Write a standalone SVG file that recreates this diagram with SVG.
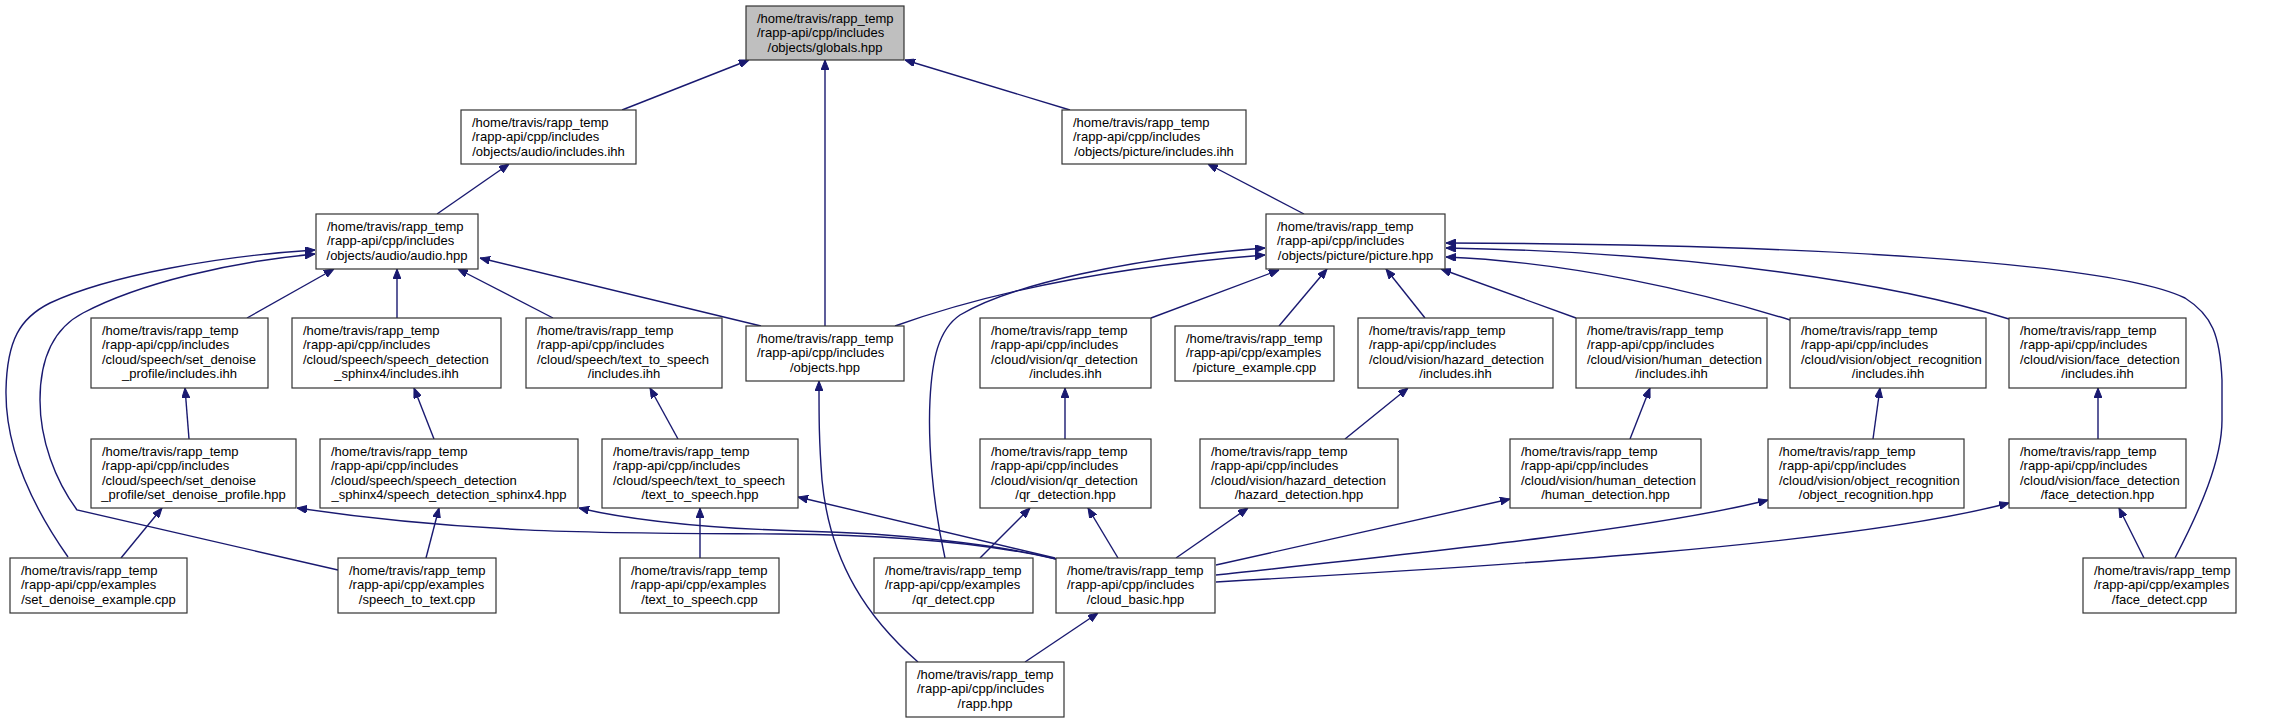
<svg xmlns="http://www.w3.org/2000/svg" width="2272" height="723" viewBox="0 0 2272 723">
<style>
.n rect{fill:#fff;stroke:#333;stroke-width:1.2}
.n.g rect{fill:#bfbfbf}
.n text{font-family:"Liberation Sans",Arial,sans-serif;font-size:13px;fill:#000}
.c{text-anchor:middle}
#edges path{fill:none;stroke:#191970;stroke-width:1.4;marker-end:url(#ah)}
</style>
<defs>
<marker id="ah" viewBox="0 0 10 8" refX="10" refY="4" markerWidth="10" markerHeight="8" markerUnits="userSpaceOnUse" orient="auto">
<path d="M0,0 L10,4 L0,8 z" fill="#191970" stroke="#191970" stroke-width="1"/>
</marker>
</defs>
<rect width="2272" height="723" fill="#fff"/>
<g id="edges">
<path d="M622,110 L749,60"/>
<path d="M825,326 L825,60"/>
<path d="M1070,110 L905,60"/>
<path d="M437,214 L509,164"/>
<path d="M1304,214 L1208,164"/>
<path d="M247,318 L334,269"/>
<path d="M397,318 L397,269"/>
<path d="M553,318 L458,269"/>
<path d="M761,326 L480,258"/>
<path d="M68,557 C35,510 5,450 6,390 C7,340 20,318 50,303 C110,275 220,256 315,250"/>
<path d="M338,570 L77,510 C55,480 40,440 40,400 C40,350 60,325 83,313 C140,283 230,262 315,254"/>
<path d="M189,439 L185,388"/>
<path d="M434,439 L414,388"/>
<path d="M678,439 L650,388"/>
<path d="M895,326 C990,292 1110,267 1265,255"/>
<path d="M945,558 C932,500 928,440 930,400 C932,360 938,330 960,315 C1010,285 1130,258 1265,248"/>
<path d="M1151,318 L1279,270"/>
<path d="M1279,326 L1327,269"/>
<path d="M1425,318 L1386,269"/>
<path d="M1576,318 L1441,269"/>
<path d="M1790,320 C1700,292 1570,262 1446,257"/>
<path d="M2009,319 C1900,285 1700,252 1446,248"/>
<path d="M2175,558 C2200,510 2222,460 2222,420 L2222,380 C2220,335 2212,315 2185,298 C2110,262 1800,244 1446,243"/>
<path d="M1065,439 L1065,388"/>
<path d="M1345,439 L1408,388"/>
<path d="M1630,439 L1650,388"/>
<path d="M1873,439 L1880,388"/>
<path d="M2098,439 L2098,388"/>
<path d="M121,558 L162,508"/>
<path d="M426,558 L439,508"/>
<path d="M700,558 L700,508"/>
<path d="M1056,559 C990,544 900,535 780,534 C620,533 480,535 297,508"/>
<path d="M1056,559 C1000,545 900,533 800,531 C700,528 630,520 579,508"/>
<path d="M1055,558 L798,497"/>
<path d="M1118,558 L1088,508"/>
<path d="M1176,558 L1248,508"/>
<path d="M1216,565 L1510,499"/>
<path d="M1216,575 C1400,555 1650,530 1768,500"/>
<path d="M1216,582 C1500,566 1850,545 2009,503"/>
<path d="M980,558 L1030,508"/>
<path d="M1025,662 L1098,613"/>
<path d="M918,662 C870,620 830,565 822,480 C819,440 819,420 819,381"/>
<path d="M2144,558 L2119,508"/>
</g>
<g id="n1" class="n g"><rect x="746" y="6" width="158" height="54"/><text><tspan x="757" y="22.5">/home/travis/rapp_temp</tspan><tspan x="757" y="37">/rapp-api/cpp/includes</tspan><tspan class="c" x="825" y="51.5">/objects/globals.hpp</tspan></text></g>
<g id="n2" class="n"><rect x="461" y="110" width="175" height="54"/><text><tspan x="472" y="126.5">/home/travis/rapp_temp</tspan><tspan x="472" y="141">/rapp-api/cpp/includes</tspan><tspan class="c" x="548.5" y="155.5">/objects/audio/includes.ihh</tspan></text></g>
<g id="n3" class="n"><rect x="1062" y="110" width="184" height="54"/><text><tspan x="1073" y="126.5">/home/travis/rapp_temp</tspan><tspan x="1073" y="141">/rapp-api/cpp/includes</tspan><tspan class="c" x="1154" y="155.5">/objects/picture/includes.ihh</tspan></text></g>
<g id="n4" class="n"><rect x="316" y="214" width="162" height="55"/><text><tspan x="327" y="230.5">/home/travis/rapp_temp</tspan><tspan x="327" y="245">/rapp-api/cpp/includes</tspan><tspan class="c" x="397" y="259.5">/objects/audio/audio.hpp</tspan></text></g>
<g id="n5" class="n"><rect x="1266" y="214" width="179" height="55"/><text><tspan x="1277" y="230.5">/home/travis/rapp_temp</tspan><tspan x="1277" y="245">/rapp-api/cpp/includes</tspan><tspan class="c" x="1355.5" y="259.5">/objects/picture/picture.hpp</tspan></text></g>
<g id="n6" class="n"><rect x="91" y="318" width="177" height="70"/><text><tspan x="102" y="334.5">/home/travis/rapp_temp</tspan><tspan x="102" y="349">/rapp-api/cpp/includes</tspan><tspan x="102" y="363.5">/cloud/speech/set_denoise</tspan><tspan class="c" x="179.5" y="378">_profile/includes.ihh</tspan></text></g>
<g id="n7" class="n"><rect x="292" y="318" width="209" height="70"/><text><tspan x="303" y="334.5">/home/travis/rapp_temp</tspan><tspan x="303" y="349">/rapp-api/cpp/includes</tspan><tspan x="303" y="363.5">/cloud/speech/speech_detection</tspan><tspan class="c" x="396.5" y="378">_sphinx4/includes.ihh</tspan></text></g>
<g id="n8" class="n"><rect x="526" y="318" width="196" height="70"/><text><tspan x="537" y="334.5">/home/travis/rapp_temp</tspan><tspan x="537" y="349">/rapp-api/cpp/includes</tspan><tspan x="537" y="363.5">/cloud/speech/text_to_speech</tspan><tspan class="c" x="624" y="378">/includes.ihh</tspan></text></g>
<g id="n9" class="n"><rect x="746" y="326" width="158" height="55"/><text><tspan x="757" y="342.5">/home/travis/rapp_temp</tspan><tspan x="757" y="357">/rapp-api/cpp/includes</tspan><tspan class="c" x="825" y="371.5">/objects.hpp</tspan></text></g>
<g id="n10" class="n"><rect x="980" y="318" width="171" height="70"/><text><tspan x="991" y="334.5">/home/travis/rapp_temp</tspan><tspan x="991" y="349">/rapp-api/cpp/includes</tspan><tspan x="991" y="363.5">/cloud/vision/qr_detection</tspan><tspan class="c" x="1065.5" y="378">/includes.ihh</tspan></text></g>
<g id="n11" class="n"><rect x="1175" y="326" width="159" height="55"/><text><tspan x="1186" y="342.5">/home/travis/rapp_temp</tspan><tspan x="1186" y="357">/rapp-api/cpp/examples</tspan><tspan class="c" x="1254.5" y="371.5">/picture_example.cpp</tspan></text></g>
<g id="n12" class="n"><rect x="1358" y="318" width="195" height="70"/><text><tspan x="1369" y="334.5">/home/travis/rapp_temp</tspan><tspan x="1369" y="349">/rapp-api/cpp/includes</tspan><tspan x="1369" y="363.5">/cloud/vision/hazard_detection</tspan><tspan class="c" x="1455.5" y="378">/includes.ihh</tspan></text></g>
<g id="n13" class="n"><rect x="1576" y="318" width="191" height="70"/><text><tspan x="1587" y="334.5">/home/travis/rapp_temp</tspan><tspan x="1587" y="349">/rapp-api/cpp/includes</tspan><tspan x="1587" y="363.5">/cloud/vision/human_detection</tspan><tspan class="c" x="1671.5" y="378">/includes.ihh</tspan></text></g>
<g id="n14" class="n"><rect x="1790" y="318" width="196" height="70"/><text><tspan x="1801" y="334.5">/home/travis/rapp_temp</tspan><tspan x="1801" y="349">/rapp-api/cpp/includes</tspan><tspan x="1801" y="363.5">/cloud/vision/object_recognition</tspan><tspan class="c" x="1888" y="378">/includes.ihh</tspan></text></g>
<g id="n15" class="n"><rect x="2009" y="318" width="177" height="70"/><text><tspan x="2020" y="334.5">/home/travis/rapp_temp</tspan><tspan x="2020" y="349">/rapp-api/cpp/includes</tspan><tspan x="2020" y="363.5">/cloud/vision/face_detection</tspan><tspan class="c" x="2097.5" y="378">/includes.ihh</tspan></text></g>
<g id="n16" class="n"><rect x="91" y="439" width="205" height="69"/><text><tspan x="102" y="455.5">/home/travis/rapp_temp</tspan><tspan x="102" y="470">/rapp-api/cpp/includes</tspan><tspan x="102" y="484.5">/cloud/speech/set_denoise</tspan><tspan class="c" x="193.5" y="499">_profile/set_denoise_profile.hpp</tspan></text></g>
<g id="n17" class="n"><rect x="320" y="439" width="258" height="69"/><text><tspan x="331" y="455.5">/home/travis/rapp_temp</tspan><tspan x="331" y="470">/rapp-api/cpp/includes</tspan><tspan x="331" y="484.5">/cloud/speech/speech_detection</tspan><tspan class="c" x="449" y="499">_sphinx4/speech_detection_sphinx4.hpp</tspan></text></g>
<g id="n18" class="n"><rect x="602" y="439" width="196" height="69"/><text><tspan x="613" y="455.5">/home/travis/rapp_temp</tspan><tspan x="613" y="470">/rapp-api/cpp/includes</tspan><tspan x="613" y="484.5">/cloud/speech/text_to_speech</tspan><tspan class="c" x="700" y="499">/text_to_speech.hpp</tspan></text></g>
<g id="n19" class="n"><rect x="980" y="439" width="171" height="69"/><text><tspan x="991" y="455.5">/home/travis/rapp_temp</tspan><tspan x="991" y="470">/rapp-api/cpp/includes</tspan><tspan x="991" y="484.5">/cloud/vision/qr_detection</tspan><tspan class="c" x="1065.5" y="499">/qr_detection.hpp</tspan></text></g>
<g id="n20" class="n"><rect x="1200" y="439" width="198" height="69"/><text><tspan x="1211" y="455.5">/home/travis/rapp_temp</tspan><tspan x="1211" y="470">/rapp-api/cpp/includes</tspan><tspan x="1211" y="484.5">/cloud/vision/hazard_detection</tspan><tspan class="c" x="1299" y="499">/hazard_detection.hpp</tspan></text></g>
<g id="n21" class="n"><rect x="1510" y="439" width="191" height="69"/><text><tspan x="1521" y="455.5">/home/travis/rapp_temp</tspan><tspan x="1521" y="470">/rapp-api/cpp/includes</tspan><tspan x="1521" y="484.5">/cloud/vision/human_detection</tspan><tspan class="c" x="1605.5" y="499">/human_detection.hpp</tspan></text></g>
<g id="n22" class="n"><rect x="1768" y="439" width="196" height="69"/><text><tspan x="1779" y="455.5">/home/travis/rapp_temp</tspan><tspan x="1779" y="470">/rapp-api/cpp/includes</tspan><tspan x="1779" y="484.5">/cloud/vision/object_recognition</tspan><tspan class="c" x="1866" y="499">/object_recognition.hpp</tspan></text></g>
<g id="n23" class="n"><rect x="2009" y="439" width="177" height="69"/><text><tspan x="2020" y="455.5">/home/travis/rapp_temp</tspan><tspan x="2020" y="470">/rapp-api/cpp/includes</tspan><tspan x="2020" y="484.5">/cloud/vision/face_detection</tspan><tspan class="c" x="2097.5" y="499">/face_detection.hpp</tspan></text></g>
<g id="n24" class="n"><rect x="10" y="558" width="177" height="55"/><text><tspan x="21" y="574.5">/home/travis/rapp_temp</tspan><tspan x="21" y="589">/rapp-api/cpp/examples</tspan><tspan class="c" x="98.5" y="603.5">/set_denoise_example.cpp</tspan></text></g>
<g id="n25" class="n"><rect x="338" y="558" width="158" height="55"/><text><tspan x="349" y="574.5">/home/travis/rapp_temp</tspan><tspan x="349" y="589">/rapp-api/cpp/examples</tspan><tspan class="c" x="417" y="603.5">/speech_to_text.cpp</tspan></text></g>
<g id="n26" class="n"><rect x="620" y="558" width="159" height="55"/><text><tspan x="631" y="574.5">/home/travis/rapp_temp</tspan><tspan x="631" y="589">/rapp-api/cpp/examples</tspan><tspan class="c" x="699.5" y="603.5">/text_to_speech.cpp</tspan></text></g>
<g id="n27" class="n"><rect x="874" y="558" width="159" height="55"/><text><tspan x="885" y="574.5">/home/travis/rapp_temp</tspan><tspan x="885" y="589">/rapp-api/cpp/examples</tspan><tspan class="c" x="953.5" y="603.5">/qr_detect.cpp</tspan></text></g>
<g id="n28" class="n"><rect x="1056" y="558" width="159" height="55"/><text><tspan x="1067" y="574.5">/home/travis/rapp_temp</tspan><tspan x="1067" y="589">/rapp-api/cpp/includes</tspan><tspan class="c" x="1135.5" y="603.5">/cloud_basic.hpp</tspan></text></g>
<g id="n29" class="n"><rect x="2083" y="558" width="153" height="55"/><text><tspan x="2094" y="574.5">/home/travis/rapp_temp</tspan><tspan x="2094" y="589">/rapp-api/cpp/examples</tspan><tspan class="c" x="2159.5" y="603.5">/face_detect.cpp</tspan></text></g>
<g id="n30" class="n"><rect x="906" y="662" width="158" height="55"/><text><tspan x="917" y="678.5">/home/travis/rapp_temp</tspan><tspan x="917" y="693">/rapp-api/cpp/includes</tspan><tspan class="c" x="985" y="707.5">/rapp.hpp</tspan></text></g>
</svg>
